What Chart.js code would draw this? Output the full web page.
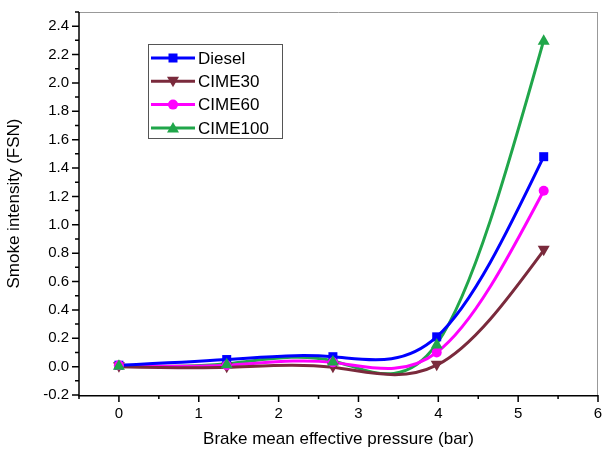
<!DOCTYPE html>
<html><head><meta charset="utf-8">
<script src="https://cdn.jsdelivr.net/npm/chart.js@4/dist/chart.umd.min.js"></script>
<style>html,body{margin:0;padding:0;background:#fff}#w{width:602px;height:454px}</style>
</head><body><div id="w"><canvas id="c" width="602" height="454"></canvas></div>
<script>
const bmep = [0, 1.35, 2.68, 3.98, 5.32];
const diesel = [0.01, 0.05, 0.07, 0.21, 1.48];
const cime30 = [0.0, -0.005, -0.005, 0.01, 0.82];
const cime60 = [0.01, 0.01, 0.03, 0.10, 1.24];
const cime100 = [0.01, 0.02, 0.04, 0.16, 2.30];
const xTicks = [0, 1, 2, 3, 4, 5, 6];
const yTicks = [-0.2, 0.0, 0.2, 0.4, 0.6, 0.8, 1.0, 1.2, 1.4, 1.6, 1.8, 2.0, 2.2, 2.4];
const seriesNames = ['Diesel', 'CIME30', 'CIME60', 'CIME100'];
const colors = ['#0000ff', '#7a2a3c', '#ff00ff', '#20a64a'];
const markers = ['rect', 'tri-down', 'circle', 'triangle'];
const values = [diesel, cime30, cime60, cime100];

function drawMarker(ctx, type, x, y, color) {
  ctx.save(); ctx.fillStyle = color; ctx.beginPath();
  if (type === 'rect') { ctx.rect(x - 4.5, y - 4.5, 9, 9); }
  else if (type === 'circle') { ctx.arc(x, y, 5, 0, Math.PI * 2); }
  else if (type === 'triangle') { ctx.moveTo(x, y - 6); ctx.lineTo(x + 6, y + 4.5); ctx.lineTo(x - 6, y + 4.5); ctx.closePath(); }
  else { ctx.moveTo(x, y + 6); ctx.lineTo(x + 6, y - 4.5); ctx.lineTo(x - 6, y - 4.5); ctx.closePath(); }
  ctx.fill(); ctx.restore();
}

// Natural cubic spline control points (Origin-style "Spline" connection)
const splinePlugin = {
  id: 'naturalSpline',
  beforeDatasetDraw(chart, args) {
    const meta = args.meta;
    const line = meta.dataset;
    line.updateControlPoints(chart.chartArea, 'x');
    const pts = meta.data;
    const n = pts.length;
    if (n < 3) return;
    const x = pts.map(p => p.x), y = pts.map(p => p.y);
    const h = [];
    for (let i = 0; i < n - 1; i++) h.push(x[i + 1] - x[i]);
    // solve for second derivatives M with M0 = Mn-1 = 0
    const M = new Array(n).fill(0);
    const a = [], b = [], c = [], d = [];
    for (let i = 1; i < n - 1; i++) {
      a.push(h[i - 1]); b.push(2 * (h[i - 1] + h[i])); c.push(h[i]);
      d.push(6 * ((y[i + 1] - y[i]) / h[i] - (y[i] - y[i - 1]) / h[i - 1]));
    }
    const m = b.length;
    for (let i = 1; i < m; i++) {
      const w = a[i] / b[i - 1];
      b[i] -= w * c[i - 1]; d[i] -= w * d[i - 1];
    }
    const sol = new Array(m);
    sol[m - 1] = d[m - 1] / b[m - 1];
    for (let i = m - 2; i >= 0; i--) sol[i] = (d[i] - c[i] * sol[i + 1]) / b[i];
    for (let i = 0; i < m; i++) M[i + 1] = sol[i];
    const slope = new Array(n);
    for (let i = 0; i < n - 1; i++) slope[i] = (y[i + 1] - y[i]) / h[i] - h[i] * (2 * M[i] + M[i + 1]) / 6;
    slope[n - 1] = (y[n - 1] - y[n - 2]) / h[n - 2] + h[n - 2] * (M[n - 2] + 2 * M[n - 1]) / 6;
    for (let i = 0; i < n; i++) {
      const p = pts[i];
      if (i > 0) { const hh = h[i - 1] / 3; p.cp1x = x[i] - hh; p.cp1y = y[i] - slope[i] * hh; }
      else { p.cp1x = x[i]; p.cp1y = y[i]; }
      if (i < n - 1) { const hh = h[i] / 3; p.cp2x = x[i] + hh; p.cp2y = y[i] + slope[i] * hh; }
      else { p.cp2x = x[i]; p.cp2y = y[i]; }
    }
  }
};

const markerPlugin = {
  id: 'markers',
  afterDatasetsDraw(chart) {
    const ctx = chart.ctx;
    chart.data.datasets.forEach((ds, i) => {
      const meta = chart.getDatasetMeta(i);
      meta.data.forEach(pt => drawMarker(ctx, markers[i], pt.x, pt.y, colors[i]));
    });
  }
};

const framePlugin = {
  id: 'frame',
  afterDraw(chart) {
    const ctx = chart.ctx, a = chart.chartArea;
    const xs = chart.scales.x, ys = chart.scales.y;
    ctx.save();
    ctx.strokeStyle = '#999'; ctx.lineWidth = 1;
    ctx.beginPath(); ctx.moveTo(a.left, a.top + 0.5); ctx.lineTo(a.right, a.top + 0.5);
    ctx.moveTo(a.right - 0.5, a.top); ctx.lineTo(a.right - 0.5, a.bottom); ctx.stroke();
    ctx.strokeStyle = '#000'; ctx.lineWidth = 1.5;
    ctx.beginPath(); ctx.moveTo(a.left, a.top); ctx.lineTo(a.left, a.bottom + 0.75);
    ctx.lineTo(a.right, a.bottom + 0.75); ctx.stroke();
    ctx.beginPath();
    xTicks.forEach(v => { const px = xs.getPixelForValue(v); ctx.moveTo(px, a.bottom); ctx.lineTo(px, a.bottom + 7); });
    yTicks.forEach(v => { const py = ys.getPixelForValue(v); ctx.moveTo(a.left, py); ctx.lineTo(a.left - 7, py); });
    ctx.stroke();
    ctx.beginPath();
    xTicks.forEach(v => { const px = xs.getPixelForValue(v - 0.5); ctx.moveTo(px, a.bottom); ctx.lineTo(px, a.bottom + 4); });
    yTicks.forEach(v => { if (v < 2.45) { const py = ys.getPixelForValue(v + 0.1); ctx.moveTo(a.left, py); ctx.lineTo(a.left - 4, py); } });
    ctx.stroke();
    const lx = 148, ly = 44, lw = 134, lh = 94;
    ctx.fillStyle = '#fff'; ctx.fillRect(lx, ly, lw, lh);
    ctx.strokeStyle = '#555'; ctx.lineWidth = 1;
    ctx.strokeRect(lx + 0.5, ly + 0.5, lw, lh);
    ctx.font = '17px "Liberation Sans", Arial, sans-serif';
    ctx.textBaseline = 'middle';
    seriesNames.forEach((n, i) => {
      const y = ly + 14 + i * 23.3;
      ctx.strokeStyle = colors[i]; ctx.lineWidth = 3;
      ctx.beginPath(); ctx.moveTo(lx + 3, y); ctx.lineTo(lx + 47, y); ctx.stroke();
      drawMarker(ctx, markers[i], lx + 25, y, colors[i]);
      ctx.fillStyle = '#000'; ctx.fillText(n, lx + 50, y + 1);
    });
    ctx.restore();
  }
};

const datasets = values.map((vals, i) => ({
  label: seriesNames[i],
  data: bmep.map((x, j) => ({ x: x, y: vals[j] })),
  borderColor: colors[i],
  borderWidth: 3,
  pointRadius: 0,
  tension: 0.4,
  fill: false
}));

new Chart(document.getElementById('c'), {
  type: 'line',
  data: { datasets: datasets },
  plugins: [splinePlugin, markerPlugin, framePlugin],
  options: {
    responsive: false, animation: false,
    layout: { padding: { top: 12, right: 4, left: 0, bottom: 0 } },
    plugins: { legend: { display: false }, tooltip: { enabled: false } },
    scales: {
      x: {
        type: 'linear', min: -0.5, max: 6,
        afterBuildTicks: s => { s.ticks = xTicks.map(v => ({ value: v })); },
        afterFit: s => { s.height = 59; s.paddingLeft = 0; s.paddingRight = 0; },
        grid: { display: false, drawTicks: false },
        border: { display: false },
        ticks: { padding: 10, color: '#000', font: { size: 15, family: '"Liberation Sans", Arial' }, maxRotation: 0 },
        title: { display: true, text: 'Brake mean effective pressure (bar)', color: '#000', font: { size: 17, family: '"Liberation Sans", Arial' }, padding: { top: 8 } }
      },
      y: {
        type: 'linear', min: -0.2, max: 2.5,
        afterBuildTicks: s => { s.ticks = yTicks.map(v => ({ value: v })); },
        afterFit: s => { s.width = 79; s.paddingTop = 0; s.paddingBottom = 0; },
        grid: { display: false, drawTicks: false },
        border: { display: false },
        ticks: { padding: 10, color: '#000', font: { size: 15, family: '"Liberation Sans", Arial' }, callback: v => v.toFixed(1) },
        title: { display: true, text: 'Smoke intensity (FSN)', color: '#000', font: { size: 17, family: '"Liberation Sans", Arial' }, padding: { bottom: 4 } }
      }
    }
  }
});
</script>
</body></html>
